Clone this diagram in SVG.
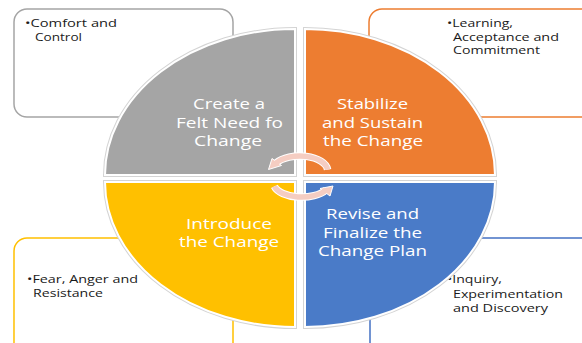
<svg xmlns="http://www.w3.org/2000/svg" width="582" height="343" viewBox="0 0 582 343">
<style>
.box{fill:#ffffff;stroke-width:1.5}
.bt{font-family:"Open Sans","Liberation Sans",sans-serif;font-size:11.5px;fill:#1a1a1a}
.qo{stroke:#d4d4d4;stroke-width:4;fill:none}
.qi{stroke:#ffffff;stroke-width:2}
.qt{font-family:"Open Sans","Liberation Sans",sans-serif;font-size:14.5px;fill:#ffffff;text-anchor:middle}
.arw{fill:none;stroke:#f5cdc2;stroke-width:5.5}
.arwb{fill:none;stroke:#ffffff;stroke-width:7.5}
</style>
<rect width="582" height="343" fill="#ffffff"/>
<g id="box-comfort">
<rect class="box" x="14" y="9" width="219" height="108" rx="13" stroke="#a5a5a5"/>
<text class="bt"><tspan x="25" y="27" textLength="92" lengthAdjust="spacingAndGlyphs">•Comfort and</tspan><tspan x="35" y="40.5" textLength="47" lengthAdjust="spacingAndGlyphs">Control</tspan></text>
</g>
<g id="box-learning">
<rect class="box" x="369" y="9" width="230" height="108" rx="13" stroke="#ed7d31"/>
<text class="bt"><tspan x="447" y="27" textLength="66" lengthAdjust="spacingAndGlyphs">•Learning,</tspan><tspan x="453" y="40.5" textLength="106" lengthAdjust="spacingAndGlyphs">Acceptance and</tspan><tspan x="453" y="54" textLength="87" lengthAdjust="spacingAndGlyphs">Commitment</tspan></text>
</g>
<g id="box-fear">
<rect class="box" x="14" y="238" width="219" height="120" rx="13" stroke="#ffc000"/>
<text class="bt"><tspan x="27" y="283" textLength="111" lengthAdjust="spacingAndGlyphs">•Fear, Anger and</tspan><tspan x="33" y="297" textLength="70" lengthAdjust="spacingAndGlyphs">Resistance</tspan></text>
</g>
<g id="box-inquiry">
<rect class="box" x="370" y="238" width="230" height="120" rx="13" stroke="#4472c4"/>
<text class="bt"><tspan x="447" y="283" textLength="55" lengthAdjust="spacingAndGlyphs">•Inquiry,</tspan><tspan x="453" y="297.5" textLength="110" lengthAdjust="spacingAndGlyphs">Experimentation</tspan><tspan x="453" y="312" textLength="95" lengthAdjust="spacingAndGlyphs">and Discovery</tspan></text>
</g>
<g id="q-create">
<path class="qo" d="M295,175 L105,175 A190 146 0 0 1 295,29 Z"/>
<path class="qi" fill="#a5a5a5" d="M295,175 L105,175 A190 146 0 0 1 295,29 Z"/>
<text class="qt"><tspan x="229" y="109" textLength="72" lengthAdjust="spacingAndGlyphs">Create a</tspan><tspan x="229.5" y="128" textLength="107" lengthAdjust="spacingAndGlyphs">Felt Need fo</tspan><tspan x="228" y="146" textLength="68" lengthAdjust="spacingAndGlyphs">Change</tspan></text>
</g>
<g id="q-stabilize">
<path class="qo" d="M305,175 L305,29 A190 146 0 0 1 495,175 Z"/>
<path class="qi" fill="#ed7d31" d="M305,175 L305,29 A190 146 0 0 1 495,175 Z"/>
<text class="qt"><tspan x="372.5" y="109" textLength="71" lengthAdjust="spacingAndGlyphs">Stabilize</tspan><tspan x="372.5" y="128" textLength="101" lengthAdjust="spacingAndGlyphs">and Sustain</tspan><tspan x="373" y="146" textLength="100" lengthAdjust="spacingAndGlyphs">the Change</tspan></text>
</g>
<g id="q-introduce">
<path class="qo" d="M295,182 L295,327 A190 145 0 0 1 105,182 Z"/>
<path class="qi" fill="#ffc000" d="M295,182 L295,327 A190 145 0 0 1 105,182 Z"/>
<text class="qt"><tspan x="229" y="229" textLength="86" lengthAdjust="spacingAndGlyphs">Introduce</tspan><tspan x="229" y="247" textLength="100" lengthAdjust="spacingAndGlyphs">the Change</tspan></text>
</g>
<g id="q-revise">
<path class="qo" d="M305,182 L495,182 A190 145 0 0 1 305,327 Z"/>
<path class="qi" fill="#4a7bc8" d="M305,182 L495,182 A190 145 0 0 1 305,327 Z"/>
<text class="qt"><tspan x="372.5" y="219" textLength="93" lengthAdjust="spacingAndGlyphs">Revise and</tspan><tspan x="372.5" y="238" textLength="99" lengthAdjust="spacingAndGlyphs">Finalize the</tspan><tspan x="372.5" y="256" textLength="109" lengthAdjust="spacingAndGlyphs">Change Plan</tspan></text>
</g>
<g id="connectors">
<path class="arwb" d="M327.6,169.6 A28 15 0 0 0 276,163"/>
<path class="arwb" d="M274.4,186.4 A28 14 0 0 0 326,190"/>
<polygon points="268.5,169.5 281.5,165.5 272,158.5" fill="#f5cdc2" stroke="#ffffff" stroke-width="1"/>
<polygon points="333,186 320,188.5 330,196" fill="#f5cdc2" stroke="#ffffff" stroke-width="1"/>
<path class="arw" d="M327.6,169.6 A28 15 0 0 0 276,163"/>
<path class="arw" d="M274.4,186.4 A28 14 0 0 0 326,190"/>
</g>
</svg>
